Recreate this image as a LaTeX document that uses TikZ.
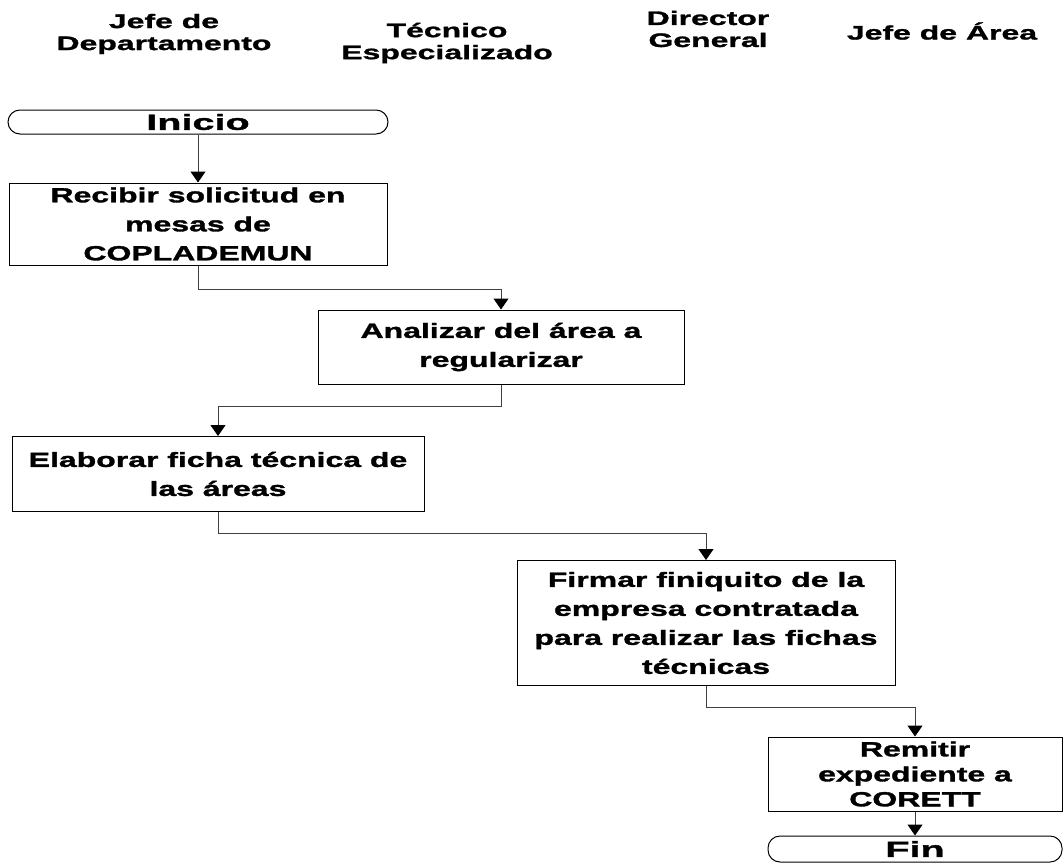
\documentclass[tikz,border=0pt]{standalone}
\usepackage{fontspec}
\setmainfont{Liberation Sans}[FakeStretch=1.56,BoldFeatures={FakeBold=1.6}]
\newfontfamily\cabecera{Liberation Sans}[FakeStretch=1.64,BoldFeatures={FakeBold=1.4}]
\newfontfamily\extremo{Liberation Sans}[FakeStretch=1.8,BoldFeatures={FakeBold=1.6}]
\usetikzlibrary{arrows.meta}
\begin{document}
\begin{tikzpicture}[x=1pt,y=-1pt,
  caja/.style={draw=black,line width=1pt,rectangle,align=center,inner sep=0pt,
    font=\fontsize{20.5}{29}\selectfont\bfseries},
  terminal/.style={caja,rounded corners=12pt,font=\extremo\fontsize{22}{24}\selectfont\bfseries},
  puesto/.style={align=center,font=\cabecera\fontsize{19.5}{22}\selectfont\bfseries},
  flecha/.style={draw=black!75,line width=1pt,-{Triangle[width=15pt,length=11pt,color=black]}}]
  \useasboundingbox (0,0) rectangle (1064,867);
  % Responsables del procedimiento
  \node[puesto] (jd) at (164,34) {Jefe de\\Departamento};
  \node[puesto] (te) at (447,43) {Técnico\\Especializado};
  \node[puesto] (dg) at (708,29) {Director\\General};
  \node[puesto] (ja) at (942,31) {Jefe de Área};
  % Pasos del diagrama
  \node[terminal,minimum width=380pt,minimum height=24pt] (ini) at (198,122) {Inicio};
  \node[caja,minimum width=378pt,minimum height=82pt] (p1) at (198,224)
    {Recibir solicitud en\\mesas de\\COPLADEMUN};
  \node[caja,minimum width=366pt,minimum height=74pt] (p2) at (501,347)
    {Analizar del área a\\regularizar};
  \node[caja,minimum width=412pt,minimum height=75pt] (p3) at (218,474)
    {Elaborar ficha técnica de\\las áreas};
  \node[caja,minimum width=378pt,minimum height=125pt] (p4) at (706,623)
    {Firmar finiquito de la\\empresa contratada\\para realizar las fichas\\técnicas};
  \node[caja,minimum width=294pt,minimum height=74pt,
    font=\fontsize{20.5}{25}\selectfont\bfseries] (p5) at (915,774)
    {Remitir\\expediente a\\CORETT};
  \node[terminal,minimum width=294pt,minimum height=26pt] (fin) at (915,849) {Fin};
  % Conectores
  \draw[flecha] (ini) -- (p1);
  \draw[flecha] (p1.south) -- ++(0,24) -| (p2.north);
  \draw[flecha] (p2.south) -- ++(0,22) -| (p3.north);
  \draw[flecha] (p3.south) -- ++(0,21) -| (p4.north);
  \draw[flecha] (p4.south) -- ++(0,21) -| (p5.north);
  \draw[flecha] (p5) -- (fin);
\end{tikzpicture}
\end{document}
